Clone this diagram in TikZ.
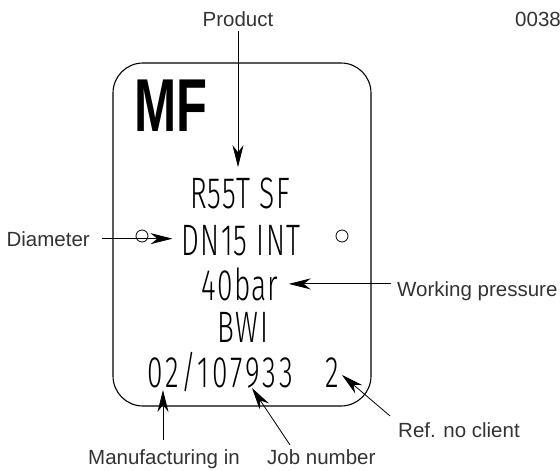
\documentclass[tikz,border=0pt]{standalone}
\usepackage{fontspec}
\setmainfont{Liberation Sans}
\newfontfamily\platefont[FakeStretch=0.64, LetterSpace=3]{Fira Sans Light}
\newfontfamily\markfont[FakeStretch=0.675]{Liberation Sans Bold}
\usetikzlibrary{arrows.meta}

\begin{document}
\begin{tikzpicture}[x=1pt, y=-1pt,
    callout/.style={font=\fontsize{20.5}{24}\selectfont, inner sep=0pt, text=black!80},
    platetext/.style={font=\platefont\fontsize{44}{48}\selectfont, inner sep=0pt, anchor=base},
    pointer/.style={-{Stealth[length=22pt, width=11pt, inset=7pt]}, line width=0.8pt}]
  \useasboundingbox (0,0) rectangle (560,471);
  % the plate
  \draw[line width=1.1pt, rounded corners=30pt] (113,63) rectangle (371,406);
  \node[font=\markfont\fontsize{75}{80}\selectfont, inner sep=0pt, anchor=base] (mf) at (171,131) {MF};
  \node[platetext] (rst) at (240,208) {R55T SF};
  \node[platetext] (dn) at (241,255) {DN15 INT};
  \node[platetext] (bar) at (240,300) {40bar};
  \node[platetext] (bwi) at (243,342) {BWI};
  \node[platetext, anchor=base west] (serial) at (147,387) {\addfontfeature{LetterSpace=7}02/107933};
  \node[platetext, anchor=base west] (clientno) at (325,387) {2};
  % fixing holes
  \draw[line width=0.8pt] (142,236) circle (6pt);
  \draw[line width=0.8pt] (342,236) circle (6pt);
  % callouts
  \node[callout, anchor=base] (product) at (238,27) {Product};
  \node[callout, anchor=base west] (docno) at (515,27) {0038};
  \node[callout, anchor=base east] (diam) at (90,246) {Diameter};
  \node[callout, anchor=base west] (press) at (397,296) {Working pressure};
  \node[callout, anchor=base west] (refno) at (398,437) {Ref. no client};
  \node[callout, anchor=base west] (manuf) at (88,464) {Manufacturing in};
  \node[callout, anchor=base west] (jobno) at (267,464) {Job number};
  \coordinate (jobtip) at (252,388);
  \coordinate (reftip) at (342,375);
  % arrows
  \draw[pointer, shorten <=6pt, shorten >=10pt] (press.west |- bar.east) -- (bar.east);
  \draw[pointer, shorten <=4pt] (product.south) -- (product.south |- rst.north) [shorten >=10pt];
  \draw[pointer, shorten <=12pt, shorten >=9pt] (diam.east) -- (diam.east -| dn.west);
  \draw[pointer, shorten <=9pt] ([xshift=-1pt]manuf.north) -- ([xshift=-1pt]manuf.north |- 0,390);
  \draw[pointer] ([xshift=23pt, yshift=4pt]jobno.north west) -- (jobtip);
  \draw[pointer] ([xshift=-8pt, yshift=6pt]refno.north west) -- (reftip);
\end{tikzpicture}
\end{document}
